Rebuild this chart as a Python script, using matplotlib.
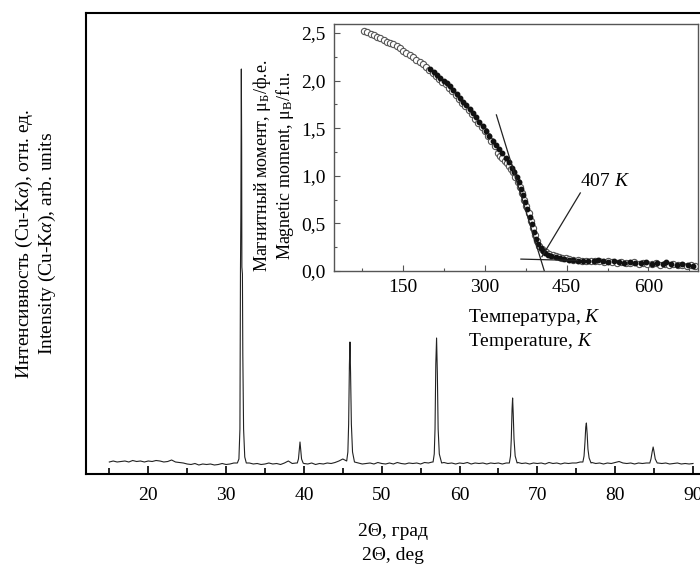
import matplotlib
matplotlib.use("Agg")
import matplotlib.pyplot as plt
from matplotlib.ticker import MultipleLocator, FuncFormatter

plt.rcParams["font.family"] = ["Liberation Serif", "DejaVu Serif"]
plt.rcParams["mathtext.fontset"] = "custom"
plt.rcParams["mathtext.rm"] = "Liberation Serif"
plt.rcParams["mathtext.it"] = "Liberation Serif:italic"

# XRD baseline, 15..90 deg every 0.5 deg (arb. units)
base_start = 15.0
base_step = 0.5
base_vals = [
    12, 13, 12, 12.5, 13, 12, 13.5, 12.5, 13, 12,
    13, 12.5, 13.5, 13, 12, 12.5, 14, 12, 11.5, 11,
    10, 9.5, 10.5, 9, 10, 9.5, 10, 9, 9.5, 10.5,
    9.5, 10, 11, 12, 0, 0, 11, 10, 10.5, 9.5,
    10, 11, 10, 10.5, 9.5, 11, 13, 10.5, 11, 0,
    10.5, 10, 11, 9.5, 10.5, 10, 11, 10.5, 11.5, 13,
    15, 13, 0, 12, 11, 10, 10.5, 11, 10, 11.5,
    10.5, 10, 11, 10, 11.5, 10.5, 10, 11, 10.5, 11,
    10, 11.5, 11, 12, 0, 0, 11.5, 10.5, 11, 10,
    11, 10.5, 11.5, 10, 11, 10.5, 11, 10, 11, 10.5,
    11, 10, 11, 0, 0, 11.5, 10.5, 11, 10, 11,
    10.5, 11, 10, 11.5, 10.5, 11, 10, 11, 10.5, 11,
    11, 12, 0, 0, 11.5, 10.5, 11, 10, 11, 10.5,
    11.5, 12.5, 11, 10.5, 11, 10, 11, 10.5, 11, 11.5,
    0, 11, 10.5, 11, 10, 10.5, 11, 10, 10.5, 10,
    10.5,
]

# diffraction peaks (2theta, intensity)
peak_32_x = [31.45, 31.65, 31.78, 31.85, 31.9, 31.96, 32.0, 32.03, 32.1, 32.15, 32.25, 32.4, 32.6]
peak_32_y = [11, 15, 45, 205, 260, 405, 330, 207, 200, 120, 45, 17, 11]
peak_39_x = [39.15, 39.3, 39.4, 39.5, 39.6, 39.7, 39.9]
peak_39_y = [11, 15, 24, 32, 24, 15, 11]
peak_46_x = [45.5, 45.65, 45.75, 45.85, 45.92, 46.0, 46.1, 46.25, 46.5]
peak_46_y = [13, 22, 50, 110, 132, 100, 50, 22, 12]
peak_57_x = [56.6, 56.75, 56.85, 56.95, 57.05, 57.15, 57.25, 57.4, 57.7]
peak_57_y = [12, 20, 45, 110, 136, 100, 45, 20, 11]
peak_67_x = [66.4, 66.55, 66.65, 66.75, 66.82, 66.9, 67.0, 67.15, 67.4]
peak_67_y = [11, 18, 35, 65, 76, 60, 35, 18, 11]
peak_76_x = [75.85, 76.0, 76.12, 76.22, 76.3, 76.4, 76.5, 76.65, 76.9]
peak_76_y = [12, 18, 32, 47, 51, 40, 25, 16, 11]
peak_85_x = [84.45, 84.6, 84.75, 84.88, 85.0, 85.15, 85.4]
peak_85_y = [11, 15, 22, 27, 22, 15, 11]

# inset: magnetic moment vs temperature
open_T = [78, 84, 90, 96, 102, 108, 114, 120, 126, 132, 138, 144, 150, 156, 162, 168,
          174, 180, 186, 192, 198, 204, 210, 216, 222, 228, 234, 240, 246, 252, 258,
          264, 270, 276, 282, 288, 294, 300, 306, 312, 318, 324, 328, 332, 336, 340,
          344, 348, 352, 356, 360, 364, 368, 372, 376, 380, 384, 388, 392, 396, 400,
          404, 408, 412, 418, 424, 430, 436, 442, 448, 455, 462, 470, 478, 486, 494,
          502, 510, 518, 526, 534, 542, 550, 558, 566, 574, 582, 590, 598, 606, 614,
          622, 630, 638, 646, 654, 662, 670, 678, 686]
open_M = [2.52, 2.51, 2.49, 2.48, 2.46, 2.45, 2.43, 2.41, 2.40, 2.38, 2.36, 2.34, 2.31,
          2.29, 2.27, 2.25, 2.22, 2.20, 2.17, 2.14, 2.11, 2.08, 2.05, 2.02, 1.99, 1.96,
          1.92, 1.89, 1.85, 1.81, 1.77, 1.73, 1.69, 1.65, 1.60, 1.56, 1.51, 1.47, 1.42,
          1.37, 1.31, 1.24, 1.21, 1.19, 1.16, 1.13, 1.10, 1.07, 1.04, 0.99, 0.94, 0.88,
          0.82, 0.75, 0.68, 0.61, 0.53, 0.45, 0.38, 0.31, 0.26, 0.23, 0.21, 0.20, 0.18,
          0.17, 0.16, 0.15, 0.14, 0.14, 0.13, 0.12, 0.12, 0.11, 0.11, 0.10, 0.11, 0.10,
          0.09, 0.10, 0.09, 0.08, 0.09, 0.08, 0.08, 0.09, 0.07, 0.08, 0.07, 0.07, 0.08,
          0.06, 0.07, 0.06, 0.07, 0.06, 0.06, 0.05, 0.06, 0.05]
filled_T = [200, 206, 212, 218, 224, 230, 236, 242, 248, 254, 260, 266, 272, 278, 284,
            290, 296, 302, 308, 314, 320, 326, 332, 338, 344, 350, 354, 358, 362, 366,
            370, 374, 378, 382, 386, 390, 394, 398, 402, 406, 410, 416, 422, 430, 438,
            446, 454, 462, 470, 480, 490, 500, 508, 516, 526, 536, 546, 556, 566, 576,
            586, 596, 606, 616, 626, 632, 642, 652, 662, 672, 682]
filled_M = [2.12, 2.09, 2.06, 2.03, 2.00, 1.97, 1.94, 1.90, 1.86, 1.82, 1.78, 1.74, 1.70,
            1.66, 1.62, 1.57, 1.52, 1.47, 1.42, 1.37, 1.32, 1.28, 1.24, 1.19, 1.14, 1.08,
            1.04, 0.99, 0.93, 0.86, 0.80, 0.73, 0.65, 0.57, 0.49, 0.41, 0.34, 0.28, 0.24,
            0.21, 0.19, 0.17, 0.16, 0.15, 0.14, 0.13, 0.12, 0.12, 0.11, 0.11, 0.10, 0.10,
            0.12, 0.10, 0.09, 0.10, 0.09, 0.08, 0.09, 0.08, 0.08, 0.09, 0.07, 0.08, 0.07,
            0.09, 0.07, 0.06, 0.07, 0.06, 0.05]
tangent_T = [321, 409]
tangent_M = [1.64, 0.0]
tail_T = [366, 470]
tail_M = [0.125, 0.11]
pointer_T = [475, 404.5]
pointer_M = [0.82, 0.15]
tc_label = r"407 $\mathit{K}$"
tc_T, tc_M = 475, 0.94


def build_pattern():
    peaks = [
        (peak_32_x, peak_32_y), (peak_39_x, peak_39_y), (peak_46_x, peak_46_y),
        (peak_57_x, peak_57_y), (peak_67_x, peak_67_y), (peak_76_x, peak_76_y),
        (peak_85_x, peak_85_y),
    ]
    points = []
    for i, v in enumerate(base_vals):
        x = base_start + i * base_step
        if any(px[0] <= x <= px[-1] for px, _ in peaks):
            continue
        points.append((x, v))
    for px, py in peaks:
        points.extend(zip(px, py))
    points.sort()
    return [p[0] for p in points], [p[1] for p in points]


def comma(v, pos):
    return f"{v:.1f}".replace(".", ",")


fig = plt.figure(figsize=(7.0, 5.64), dpi=100)

# main XRD panel
ax = fig.add_axes([86 / 700, 90 / 564, 614 / 700, 461 / 564])
xs, ys = build_pattern()
ax.plot(xs, ys, color="#222222", linewidth=0.8)
ax.set_xlim(12.0, 90.9)
ax.set_ylim(0, 461)
ax.spines["right"].set_visible(False)
for s in ("left", "top", "bottom"):
    ax.spines[s].set_linewidth(1.5)
ax.set_yticks([])
ax.xaxis.set_major_locator(MultipleLocator(10))
ax.xaxis.set_minor_locator(MultipleLocator(5))
ax.tick_params(axis="x", which="major", direction="in", length=6, width=1.2,
               labelsize=14, pad=9)
ax.tick_params(axis="x", which="minor", direction="in", length=4, width=1.2)
ax.set_xticks([20, 30, 40, 50, 60, 70, 80, 90])
ax.set_ylabel("Интенсивность (Cu-K$\\alpha$), отн. ед.\nIntensity (Cu-K$\\alpha$), arb. units",
              fontsize=14, labelpad=20, linespacing=1.15)
fig.text(393 / 700, 1 - 532 / 564, "2Θ, град", ha="center", va="center", fontsize=14)
fig.text(393 / 700, 1 - 555 / 564, "2Θ, deg", ha="center", va="center", fontsize=14)

# inset: magnetization
ins = fig.add_axes([334 / 700, 293 / 564, 364 / 700, 247 / 564])
ins.set_facecolor("white")
ins.plot(open_T, open_M, linestyle="none", marker="o", markersize=4.5,
         markerfacecolor="white", markeredgecolor="#555555", markeredgewidth=0.8)
ins.plot(filled_T, filled_M, linestyle="none", marker="o", markersize=3.2,
         color="#111111")
ins.plot(tangent_T, tangent_M, color="#222222", linewidth=0.9)
ins.plot(tail_T, tail_M, color="#222222", linewidth=0.9)
ins.plot(pointer_T, pointer_M, color="#222222", linewidth=0.9)
ins.text(tc_T, tc_M, tc_label, fontsize=14, ha="left", va="center")
ins.set_xlim(23, 691)
ins.set_ylim(0, 2.595)
for s in ins.spines.values():
    s.set_linewidth(1.0)
    s.set_color("#555555")
ins.set_xticks([150, 300, 450, 600])
ins.xaxis.set_minor_locator(MultipleLocator(75))
ins.set_yticks([0, 0.5, 1.0, 1.5, 2.0, 2.5])
ins.yaxis.set_minor_locator(MultipleLocator(0.25))
ins.yaxis.set_major_formatter(FuncFormatter(comma))
ins.tick_params(which="major", direction="in", length=4, width=0.8, labelsize=14, pad=6,
                color="#555555")
ins.tick_params(which="minor", direction="in", length=2.5, width=0.8, color="#555555")
ins.set_ylabel("Магнитный момент, μ$_{\\mathrm{Б}}$/ф.е.\nMagnetic moment, μ$_{\\mathrm{B}}$/f.u.",
               fontsize=13, linespacing=1.1)
ins.yaxis.set_label_coords(-0.104, 0.425)
fig.text(468 / 700, 1 - 318 / 564, "Температура, $\\mathit{K}$", ha="left", va="center",
         fontsize=14)
fig.text(468 / 700, 1 - 342 / 564, "Temperature, $\\mathit{K}$", ha="left", va="center",
         fontsize=14)

fig.savefig("out.png", dpi=100)
